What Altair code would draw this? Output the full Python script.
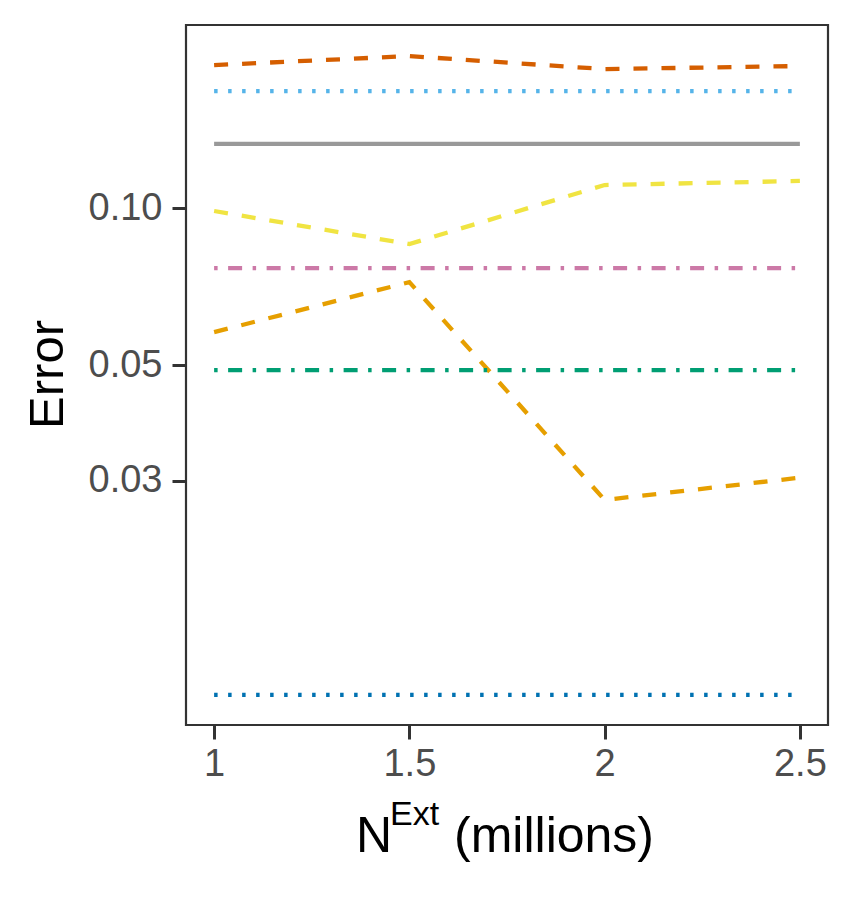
import altair as alt
import pandas as pd

# ---- data ----
n_ext = [1.0, 1.5, 2.0, 2.5]
series_names = ["S1", "S2", "S3", "S4", "S5", "S6", "S7", "S8"]
s1 = [0.188, 0.1956, 0.1847, 0.1872]      # vermillion dashed
s2 = [0.1676, 0.1676, 0.1676, 0.1676]     # sky blue dotted
s3 = [0.1327, 0.1327, 0.1327, 0.1327]     # grey solid
s4 = [0.0987, 0.0853, 0.1107, 0.1127]     # yellow dashed
s5 = [0.0767, 0.0767, 0.0767, 0.0767]     # pink dot-dash
s6 = [0.0578, 0.0721, 0.02756, 0.0304]    # orange dashed
s7 = [0.0489, 0.0489, 0.0489, 0.0489]     # green dot-dash
s8 = [0.01165, 0.01165, 0.01165, 0.01165] # blue dotted
all_series = [s1, s2, s3, s4, s5, s6, s7, s8]

y_ticks = [0.03, 0.05, 0.10]
x_ticks = [1, 1.5, 2, 2.5]

colors = ["#D55E00", "#56B4E9", "#999999", "#F0E442",
          "#CC79A7", "#E69F00", "#009E73", "#0072B2"]
dashed = [14, 14]
dotted = [3.5, 10.5]
solid = [1, 0]
dotdash = [3.5, 10.5, 14, 10.5]
dashes = [dashed, dotted, solid, dashed, dotdash, dashed, dotdash, dotted]

rows = []
for name, vals in zip(series_names, all_series):
    for x, v in zip(n_ext, vals):
        rows.append({"n": x, "err": v, "series": name})
df = pd.DataFrame(rows)

W, H = 642, 700

lines = alt.Chart(df).mark_line(strokeWidth=4.3, clip=True).encode(
    x=alt.X("n:Q",
            scale=alt.Scale(domain=[0.928, 2.572], nice=False, zero=False),
            axis=alt.Axis(values=x_ticks, format="~g", title=None,
                          grid=False, domain=False, tickSize=14, tickWidth=3,
                          tickColor="#333333", labelFontSize=38,
                          labelColor="#4D4D4D", labelFont="Liberation Sans",
                          labelPadding=6, labelFlush=False)),
    y=alt.Y("err:Q",
            scale=alt.Scale(type="log", domain=[0.0102, 0.2244], nice=False),
            axis=alt.Axis(values=y_ticks, format=".2f", title="Error",
                          grid=False, domain=False, tickSize=14, tickWidth=3,
                          tickColor="#333333", labelFontSize=38,
                          labelColor="#4D4D4D", labelFont="Liberation Sans",
                          labelPadding=10,
                          titleFont="Liberation Sans", titleFontSize=49,
                          titleFontWeight="normal", titleColor="#000000",
                          titleX=-124, titleY=349, titleAngle=270,
                          titleAlign="center", titleBaseline="alphabetic")),
    color=alt.Color("series:N", scale=alt.Scale(domain=series_names, range=colors), legend=None),
    strokeDash=alt.StrokeDash("series:N", scale=alt.Scale(domain=series_names, range=dashes), legend=None),
    detail="series:N",
)

one = alt.Data(values=[{"a": 1}])
t_n = alt.Chart(one).mark_text(text="N", font="Liberation Sans", fontSize=50,
                               align="left", baseline="alphabetic", color="#000000").encode(
    x=alt.value(170), y=alt.value(827))
t_ext = alt.Chart(one).mark_text(text="Ext", font="Liberation Sans", fontSize=34,
                                 align="left", baseline="alphabetic", color="#000000").encode(
    x=alt.value(204), y=alt.value(800))
t_mil = alt.Chart(one).mark_text(text="(millions)", font="Liberation Sans", fontSize=50,
                                 align="left", baseline="alphabetic", color="#000000").encode(
    x=alt.value(268), y=alt.value(827))

chart = alt.layer(lines, t_n, t_ext, t_mil).properties(
    width=W, height=H,
    background="white",
    autosize=alt.AutoSizeParams(type="none"),
    padding={"left": 178, "top": 17, "right": 19, "bottom": 167},
).configure_view(stroke="#333333", strokeWidth=2.2)

chart.save("out.html", embed_options={"renderer": "svg", "actions": False})
